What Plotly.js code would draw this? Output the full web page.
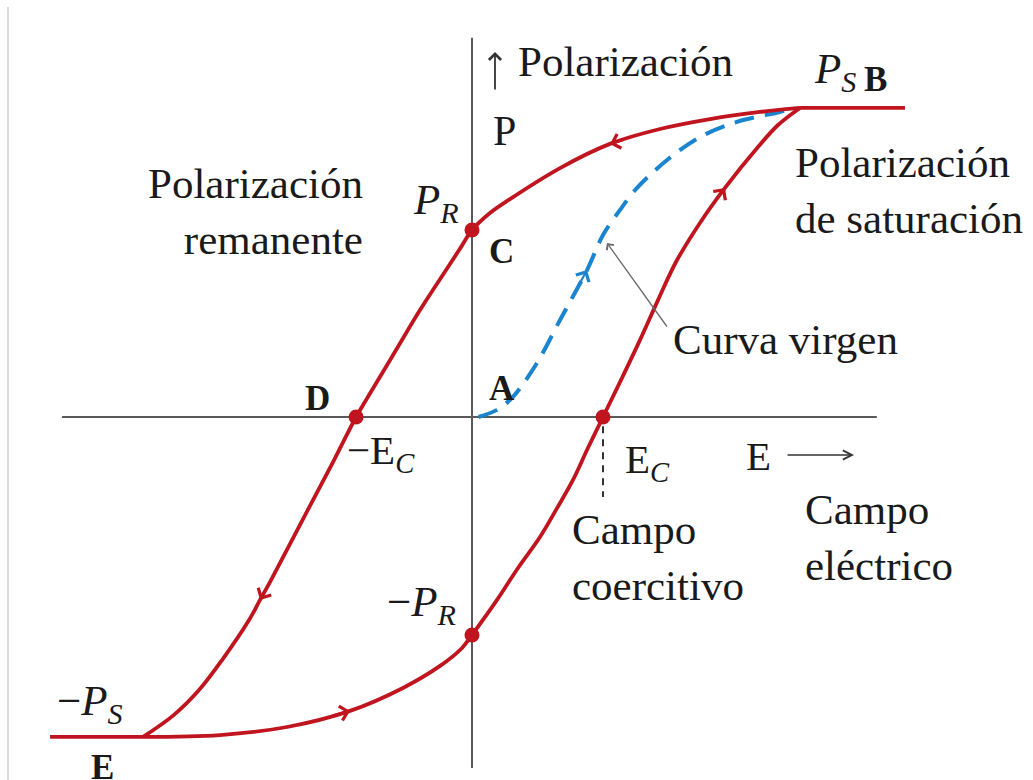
<!DOCTYPE html>
<html>
<head>
<meta charset="utf-8">
<script src="https://cdn.plot.ly/plotly-3.0.1.min.js"></script>
<style>
  html, body { margin: 0; padding: 0; background: #ffffff; }
  #chart { width: 1033px; height: 780px; }
</style>
</head>
<body>
<div id="chart"></div>
<script>
// Ferroelectric hysteresis loop: E in units of the coercive field, P in units of saturation.

// Descending branch B -> C -> D -> E
const upperE = [2.504, 2.198, 1.817, 1.435, 1.053, 0.672, 0.290, 0.137, 0.000, -0.084, -0.183, -0.397, -0.580, -0.763, -0.885, -1.053, -1.214, -1.374, -1.534, -1.618, -1.702, -1.908, -2.084, -2.275, -2.511];
const upperP = [0.997, 0.984, 0.961, 0.929, 0.881, 0.803, 0.703, 0.658, 0.603, 0.548, 0.484, 0.345, 0.216, 0.087, 0.000, -0.139, -0.268, -0.397, -0.526, -0.590, -0.655, -0.784, -0.881, -0.961, -1.032];

// Ascending branch E -> -P_R -> E_C -> B
const lowerE = [-2.511, -1.924, -1.412, -0.931, -0.527, -0.244, -0.076, 0.000, 0.191, 0.351, 0.519, 0.649, 0.771, 0.885, 1.000, 1.137, 1.282, 1.420, 1.557, 1.740, 1.931, 2.183, 2.336, 2.504];
const lowerP = [-1.032, -1.026, -1.000, -0.948, -0.874, -0.803, -0.745, -0.703, -0.590, -0.487, -0.387, -0.294, -0.203, -0.100, 0.000, 0.119, 0.248, 0.377, 0.500, 0.626, 0.739, 0.871, 0.942, 0.997];

// First polarization (virgin curve) A -> B
const virginE = [0.050, 0.191, 0.313, 0.496, 0.672, 0.878, 1.000, 1.130, 1.260, 1.489, 1.740, 2.023, 2.351, 2.466];
const virginP = [0.000, 0.023, 0.065, 0.174, 0.313, 0.474, 0.587, 0.668, 0.739, 0.829, 0.903, 0.952, 0.984, 0.997];

// Saturation plateaus
const satTopE = [2.504, 3.305];
const satTopP = [0.997, 0.997];
const satBotE = [-3.221, -2.511];
const satBotP = [-1.032, -1.032];

// Marked points: P_R (C), -E_C (D), E_C, -P_R
const keyE = [0.000, -0.885, 1.000, 0.000];
const keyP = [0.603, 0.000, 0.000, -0.703];

// Axes extents
const axisE = [-3.13, 3.09];
const axisP = [-1.132, 1.223];
const coerciveDashP = [-0.03, -0.258];

// Direction arrows placed on curve points (series, index)
const flowArrows = [
  ['upper', 4], ['upper', 19], ['lower', 3], ['lower', 20], ['virgin', 5]
];

const W = 1033, H = 780;
const ORIGIN = { x: 472, y: 417 };
const UNIT = { e: 131, p: 310 };
const RED = '#c0141e';
const BLUE = '#1b84ce';
const AXIS = '#5a5a5a';
const SERIF = 'Liberation Serif, Times New Roman, serif';

const series = {
  upper: [upperE, upperP, RED],
  lower: [lowerE, lowerP, RED],
  virgin: [virginE, virginP, BLUE]
};

const redLine = { color: RED, width: 3.8, shape: 'spline', smoothing: 1 };

const traces = [
  { x: virginE, y: virginP, mode: 'lines', line: { color: BLUE, width: 4, dash: '20px,11px', shape: 'spline', smoothing: 0.9 } },
  { x: upperE, y: upperP, mode: 'lines', line: redLine },
  { x: lowerE, y: lowerP, mode: 'lines', line: redLine },
  { x: satTopE, y: satTopP, mode: 'lines', line: { color: RED, width: 3.8 } },
  { x: satBotE, y: satBotP, mode: 'lines', line: { color: RED, width: 3.8 } },
  { x: keyE, y: keyP, mode: 'markers', marker: { color: RED, size: 15 } }
];

// pixel position on the page -> paper coordinates
function at(px, py) {
  return { x: px / W, y: 1 - py / H, xref: 'paper', yref: 'paper' };
}

function label(text, px, py, size, opts) {
  return Object.assign(at(px, py), {
    text: text, showarrow: false, xanchor: 'left', yanchor: 'middle',
    font: { family: SERIF, size: size, color: '#1a1a1a' }
  }, opts || {});
}

function pointer(tipX, tipY, tailX, tailY, head, size, width, color) {
  return Object.assign(at(tipX, tipY), {
    ax: tailX / W, ay: 1 - tailY / H, axref: 'paper', ayref: 'paper',
    showarrow: true, arrowhead: head, arrowsize: size, arrowwidth: width, arrowcolor: color, text: ''
  });
}

const annotations = [
  label('Polarización', 516, 62, 43),
  label('P', 491, 131, 42),
  label('<i>P</i><sub><i>S</i></sub>', 812, 72, 43),
  label('<b>B</b>', 862, 80, 35),
  label('Polarización<br>de saturación', 793, 190, 43, { align: 'left' }),
  label('Polarización<br>remanente', 365, 212, 43, { align: 'right', xanchor: 'right' }),
  label('<i>P</i><sub><i>R</i></sub>', 411, 203, 43),
  label('<b>C</b>', 487, 252, 35),
  label('<b>A</b>', 487, 388, 35),
  label('<b>D</b>', 303, 399, 35),
  label('−E<sub><i>C</i></sub>', 345, 453, 41),
  label('E<sub><i>C</i></sub>', 623, 462, 41),
  label('E', 744, 456, 41),
  label('Campo<br>coercitivo', 570, 557, 43, { align: 'left' }),
  label('Campo<br>eléctrico', 803, 537, 43, { align: 'left' }),
  label('Curva virgen', 671, 339, 43),
  label('−<i>P</i><sub><i>R</i></sub>', 385, 605, 43),
  label('−<i>P</i><sub><i>S</i></sub>', 55, 704, 43),
  label('<b>E</b>', 89, 767, 35),
  // axis arrows
  pointer(495, 52, 495, 91, 4, 1.3, 1.8, '#333'),
  pointer(854, 455, 786, 455, 5, 1.2, 1.5, '#333'),
  // pointer to the virgin curve
  pointer(607, 243, 668, 328, 4, 1.3, 1.3, '#6a6a6a')
];

// chevrons showing the sense of travel along each branch
flowArrows.forEach(function (a) {
  const s = series[a[0]], i = a[1];
  const xe = s[0][i], yp = s[1][i];
  const pe = s[0][i - 1], pp = s[1][i - 1];
  annotations.push({
    x: xe, y: yp, xref: 'x', yref: 'y',
    ax: xe - 0.3 * (xe - pe), ay: yp - 0.3 * (yp - pp), axref: 'x', ayref: 'y',
    showarrow: true, arrowhead: 4, arrowsize: 1.3, arrowwidth: 2.2, arrowcolor: s[2], text: ''
  });
});

const shapes = [
  { type: 'line', xref: 'x', yref: 'y', x0: axisE[0], x1: axisE[1], y0: 0, y1: 0, line: { color: AXIS, width: 2 }, layer: 'below' },
  { type: 'line', xref: 'x', yref: 'y', x0: 0, x1: 0, y0: axisP[0], y1: axisP[1], line: { color: AXIS, width: 2 }, layer: 'below' },
  { type: 'line', xref: 'x', yref: 'y', x0: keyE[2], x1: keyE[2], y0: coerciveDashP[0], y1: coerciveDashP[1], line: { color: '#333', width: 2, dash: '7px,6px' } },
  // page edge rule
  { type: 'line', xref: 'paper', yref: 'paper', x0: 8 / W, x1: 8 / W, y0: 0, y1: 1 - 7 / H, line: { color: '#c4c4c4', width: 1.2 } }
];

const layout = {
  width: W, height: H,
  margin: { l: 0, r: 0, t: 0, b: 0 },
  paper_bgcolor: '#ffffff', plot_bgcolor: '#ffffff',
  showlegend: false,
  xaxis: { range: [-ORIGIN.x / UNIT.e, (W - ORIGIN.x) / UNIT.e], visible: false, fixedrange: true },
  yaxis: { range: [(ORIGIN.y - H) / UNIT.p, ORIGIN.y / UNIT.p], visible: false, fixedrange: true },
  shapes: shapes,
  annotations: annotations
};

Plotly.newPlot('chart', traces, layout, { displayModeBar: false, staticPlot: true });
</script>
</body>
</html>
